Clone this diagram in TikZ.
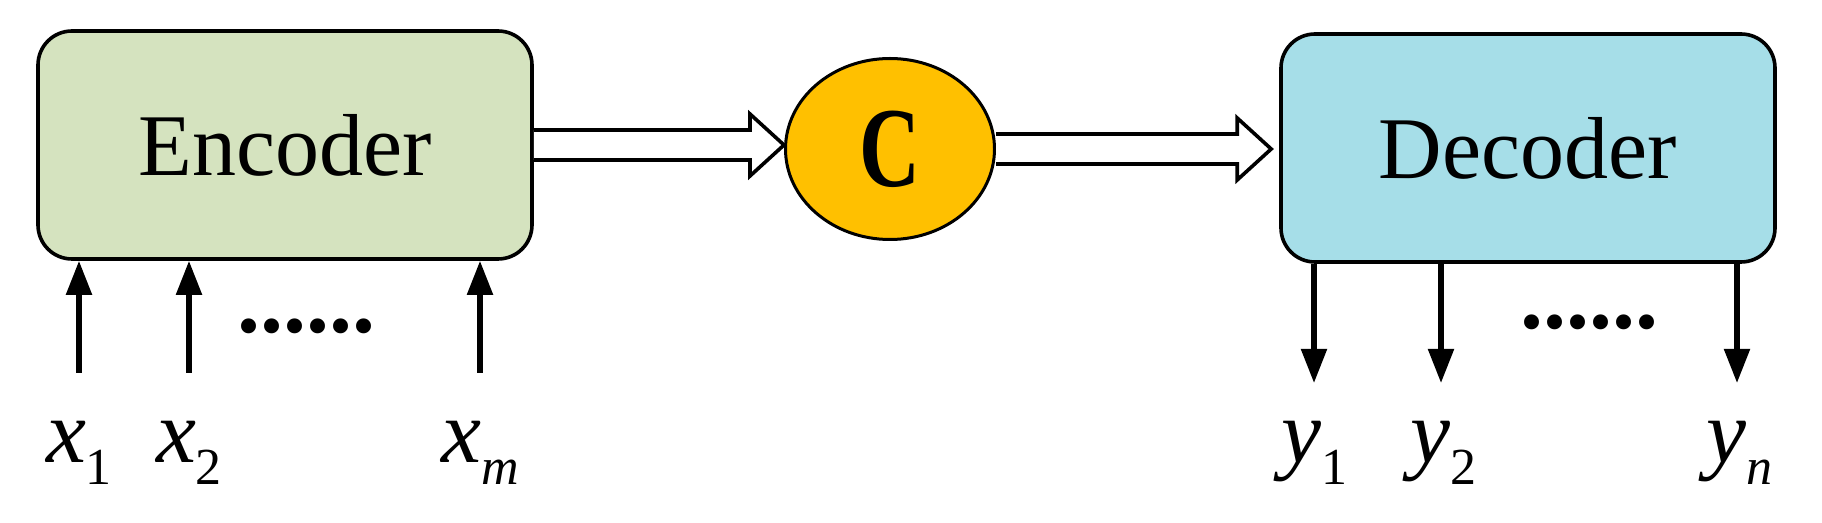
\documentclass[tikz,border=0pt]{standalone}
\usepackage{fontspec}
\setmainfont{Liberation Serif}
\usetikzlibrary{arrows.meta,shapes.geometric,calc}
\definecolor{encgreen}{HTML}{D5E3BF}
\definecolor{decblue}{HTML}{A6DEE8}
\definecolor{cgold}{HTML}{FFC000}
\newcommand{\lbl}[2]{\textit{#1}\raisebox{-11pt}{\fontsize{26}{30}\selectfont #2}}
\newcommand{\fatarrow}[2]{\draw[fat] ($(#1)+(0,-15)$) -- ($(#2)+(-34,-15)$) -- ($(#2)+(-34,-31)$) -- (#2) -- ($(#2)+(-34,31)$) -- ($(#2)+(-34,15)$) -- ($(#1)+(0,15)$);}
\begin{document}
\begin{tikzpicture}[x=0.5pt,y=-0.5pt,
  box/.style={draw,line width=1.8pt,rounded corners=17pt,minimum width=247pt,minimum height=114pt,font=\fontsize{44}{50}\selectfont},
  fat/.style={draw,line width=1.8pt,fill=white,line join=miter},
  io/.style={line width=2.6pt,-{Triangle[length=17pt,width=12.5pt]}},
  lab/.style={font=\fontsize{45}{50}\selectfont,inner sep=0pt},
  dots/.style={font=\fontsize{46}{50}\selectfont\bfseries,inner sep=0pt}]
\useasboundingbox (0,0) rectangle (1822,523);
% main blocks
\node[box,fill=encgreen] (enc) at (285,145) {Encoder};
\node[box,fill=decblue] (dec) at (1528,148) {Decoder};
\node[ellipse,draw,line width=1.5pt,fill=cgold,minimum width=104.5pt,minimum height=90.5pt,inner sep=0pt,font=\fontsize{57}{64}\selectfont\bfseries] (ctx) at (890,149) {\scalebox{0.74}[1]{C}};
% fat arrows
\coordinate (t1) at (enc.east -| ctx.west);
\coordinate (t2) at ($(ctx.east -| dec.west)+(-8,0)$);
\fatarrow{enc.east}{t1}
\fatarrow{ctx.east}{t2}
% input labels and arrows
\node[lab,anchor=base] (lx1) at (79,463) {\lbl{x}{1}};
\node[lab,anchor=base] (lx2) at (189,463) {\lbl{x}{2}};
\node[lab,anchor=base] (lxm) at (480,463) {\lbl{x}{\textit{m}}};
\coordinate (i1) at (79,373);
\coordinate (i2) at (189,373);
\coordinate (im) at (480,373);
\draw[io] (i1) -- (i1 |- enc.south);
\draw[io] (i2) -- (i2 |- enc.south);
\draw[io] (im) -- (im |- enc.south);
\node[dots,anchor=base] (dx) at (306,333) {......};
% output labels and arrows
\node[lab,anchor=base] (ly1) at (1314,463) {\lbl{y}{1}};
\node[lab,anchor=base] (ly2) at (1443,463) {\lbl{y}{2}};
\node[lab,anchor=base] (lyn) at (1739,463) {\lbl{y}{\textit{n}}};
\coordinate (o1) at (1314,383);
\coordinate (o2) at (1441,383);
\coordinate (on) at (1737,383);
\draw[io] (o1 |- dec.south) -- (o1);
\draw[io] (o2 |- dec.south) -- (o2);
\draw[io] (on |- dec.south) -- (on);
\node[dots,anchor=base] (dy) at (1589,329) {......};
\end{tikzpicture}
\end{document}
